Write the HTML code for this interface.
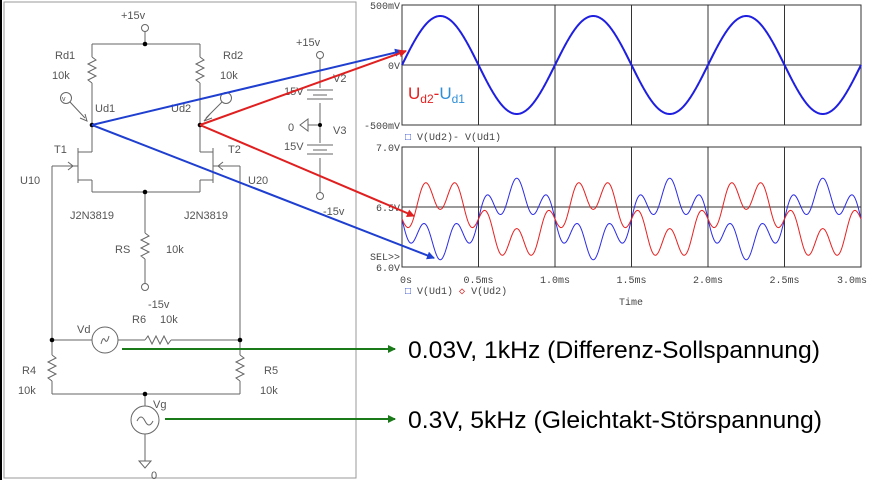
<!DOCTYPE html>
<html><head><meta charset="utf-8"><style>
html,body{margin:0;padding:0;background:#fff;width:869px;height:485px;overflow:hidden}
svg{display:block}
.s{font-family:"Liberation Sans",sans-serif;font-size:11px;fill:#555}
.m{font-family:"Liberation Mono",monospace;font-size:10px;fill:#444}
</style></head><body>
<svg id="g" width="869" height="485" viewBox="0 0 869 485" xmlns="http://www.w3.org/2000/svg">
<defs>
<marker id="ab" markerWidth="8" markerHeight="8" refX="7" refY="4" orient="auto" markerUnits="userSpaceOnUse"><path d="M0,0 L8,4 L0,8 z" fill="#1f3fd0"/></marker>
<marker id="ar" markerWidth="8" markerHeight="8" refX="7" refY="4" orient="auto" markerUnits="userSpaceOnUse"><path d="M0,0 L8,4 L0,8 z" fill="#e02020"/></marker>
<marker id="ag" markerWidth="8" markerHeight="8" refX="7" refY="4" orient="auto" markerUnits="userSpaceOnUse"><path d="M0,0 L8,4 L0,8 z" fill="#1a7a1a"/></marker>
</defs>
<rect x="0" y="0" width="2" height="480" fill="#000"/>
<rect x="4" y="2" width="352" height="476" fill="none" stroke="#999" stroke-width="1"/>
<g stroke="#666" stroke-width="1" fill="none">
<circle cx="145" cy="28" r="3.5" fill="#fff"/>
<line x1="145" y1="31" x2="145" y2="44"/>
<line x1="92" y1="44" x2="200" y2="44"/>
<line x1="92" y1="44" x2="92" y2="57"/><line x1="200" y1="44" x2="200" y2="57"/>
<polyline points="92,57 96,60 88,64 96,68 88,72 96,76 88,80 92,83"/>
<polyline points="200,57 204,60 196,64 204,68 196,72 204,76 196,80 200,83"/>
<line x1="92" y1="83" x2="92" y2="152"/><line x1="200" y1="83" x2="200" y2="152"/>
<line x1="78" y1="148" x2="78" y2="183"/>
<line x1="78" y1="152" x2="92" y2="152"/><line x1="78" y1="180" x2="92" y2="180"/>
<line x1="92" y1="180" x2="92" y2="192"/>
<line x1="52" y1="166" x2="78" y2="166"/><line x1="52" y1="166" x2="52" y2="340"/>
<polyline points="68,162 73,166 68,170"/>
<line x1="213" y1="148" x2="213" y2="183"/>
<line x1="200" y1="152" x2="213" y2="152"/><line x1="200" y1="180" x2="213" y2="180"/>
<line x1="200" y1="180" x2="200" y2="192"/>
<line x1="213" y1="166" x2="240" y2="166"/><line x1="240" y1="166" x2="240" y2="340"/>
<polyline points="223,162 218,166 223,170"/>
<line x1="92" y1="192" x2="200" y2="192"/>
<line x1="145" y1="192" x2="145" y2="233"/>
<polyline points="145,233 149,236 141,240 149,244 141,248 149,252 141,256 145,259"/>
<line x1="145" y1="259" x2="145" y2="284"/>
<circle cx="145" cy="287" r="3.5" fill="#fff"/>
<circle cx="66" cy="98" r="5.5"/><line x1="70" y1="102" x2="85" y2="118"/>
<polyline points="80,118 87,121 85,114"/>
<circle cx="226" cy="98" r="5.5"/><line x1="222" y1="102" x2="206" y2="118"/>
<polyline points="210,114 204,121 212,118"/>
<circle cx="320" cy="55" r="3.5" fill="#fff"/>
<line x1="320" y1="58" x2="320" y2="88"/>
<line x1="307" y1="90" x2="333" y2="90"/><line x1="313" y1="95" x2="327" y2="95"/><line x1="307" y1="99" x2="333" y2="99"/>
<line x1="320" y1="103" x2="320" y2="143"/>
<line x1="307" y1="145" x2="333" y2="145"/><line x1="313" y1="150" x2="327" y2="150"/><line x1="307" y1="154" x2="333" y2="154"/>
<line x1="320" y1="158" x2="320" y2="193"/>
<circle cx="320" cy="196" r="3.5" fill="#fff"/>
<line x1="308" y1="125" x2="320" y2="125"/>
<polygon points="300,125 308,119 308,131"/>
<line x1="52" y1="340" x2="92" y2="340"/>
<circle cx="105" cy="340" r="13"/>
<path d="M101,344 q2,-8 4,-4 t4,-4"/>
<line x1="118" y1="340" x2="145" y2="340"/>
<polyline points="145,340 148,336 152,344 156,336 160,344 164,336 168,344 171,340"/>
<line x1="171" y1="340" x2="240" y2="340"/>
<line x1="52" y1="340" x2="52" y2="355"/>
<polyline points="52,355 56,358 48,362 56,366 48,370 56,374 48,378 52,381"/>
<line x1="52" y1="381" x2="52" y2="394"/>
<line x1="240" y1="340" x2="240" y2="355"/>
<polyline points="240,355 244,358 236,362 244,366 236,370 244,374 236,378 240,381"/>
<line x1="240" y1="381" x2="240" y2="394"/>
<line x1="52" y1="394" x2="240" y2="394"/>
<line x1="145" y1="394" x2="145" y2="406"/>
<circle cx="145" cy="420" r="14"/>
<path d="M137,421 q4,-8 8,0 t8,0"/>
<line x1="145" y1="434" x2="145" y2="461"/>
<polygon points="139,461 151,461 145,468"/>
</g>
<g fill="#000">
<circle cx="145" cy="44" r="2.3"/><circle cx="145" cy="192" r="2.3"/>
<circle cx="92" cy="125" r="2.3"/><circle cx="200" cy="125" r="2.3"/>
<circle cx="320" cy="125" r="2"/>
<circle cx="52" cy="340" r="2.3"/><circle cx="240" cy="340" r="2.3"/><circle cx="145" cy="394" r="2.3"/>
</g>
<g class="s">
<text x="121" y="19">+15v</text>
<text x="55" y="59">Rd1</text><text x="52" y="79">10k</text>
<text x="223" y="59">Rd2</text><text x="220" y="79">10k</text>
<text x="62" y="101" font-size="7">v</text>
<text x="95" y="112">Ud1</text><text x="171" y="112">Ud2</text>
<text x="54" y="153">T1</text><text x="228" y="153">T2</text>
<text x="20" y="184">U10</text><text x="248" y="184">U20</text>
<text x="70" y="219">J2N3819</text><text x="184" y="219">J2N3819</text>
<text x="115" y="253">RS</text><text x="166" y="253">10k</text>
<text x="148" y="308">-15v</text>
<text x="132" y="323">R6</text><text x="160" y="323">10k</text>
<text x="77" y="333">Vd</text>
<text x="22" y="374">R4</text><text x="18" y="394">10k</text>
<text x="264" y="374">R5</text><text x="260" y="394">10k</text>
<text x="153" y="408">Vg</text><text x="151" y="479">0</text>
<text x="296" y="46">+15v</text>
<text x="333" y="82">V2</text><text x="284" y="95">15V</text>
<text x="288" y="131">0</text><text x="333" y="134">V3</text>
<text x="284" y="150">15V</text>
<text x="323" y="215">-15v</text>
</g>
<g stroke="#333" stroke-width="1" fill="none">
<rect x="402" y="5" width="459" height="120"/>
<rect x="402" y="147" width="459" height="120"/>
<line x1="402" y1="65" x2="861" y2="65"/>
<line x1="402" y1="207" x2="861" y2="207"/>
<g id="vg"></g>
</g>
<g class="m" text-anchor="end">
<text x="400" y="9">500mV</text><text x="400" y="69">0V</text><text x="400" y="129">-500mV</text>
<text x="400" y="151">7.0V</text><text x="400" y="211">6.5V</text><text x="400" y="271">6.0V</text>
<text x="400" y="260">SEL&gt;&gt;</text>
</g>
<g class="m" text-anchor="middle" id="xl"></g>
<g class="m">
<text x="405" y="140"><tspan fill="#1f3fd0">□</tspan> V(Ud2)- V(Ud1)</text>
<text x="405" y="294"><tspan fill="#1f3fd0">□</tspan> V(Ud1) <tspan fill="#e02020">◇</tspan> V(Ud2)</text>
<text x="631" y="305" text-anchor="middle">Time</text>
</g>
<path id="p1" fill="none" stroke="#1f1fe0" stroke-width="2"/>
<path id="pb" fill="none" stroke="#2a2ae8" stroke-width="1"/>
<path id="pr" fill="none" stroke="#e82020" stroke-width="1"/>
<text x="408" y="99" font-family="Liberation Sans,sans-serif" font-size="17"><tspan fill="#e52020">U</tspan><tspan fill="#e52020" font-size="12" dy="4">d2</tspan><tspan fill="#e52020" dy="-4">-</tspan><tspan fill="#2f8fd8">U</tspan><tspan fill="#2f8fd8" font-size="12" dy="4">d1</tspan></text>
<g stroke-width="2" fill="none">
<line x1="92" y1="125" x2="402" y2="51" stroke="#1f3fd0" marker-end="url(#ab)"/>
<line x1="92" y1="125" x2="434" y2="258" stroke="#1f3fd0" marker-end="url(#ab)"/>
<line x1="200" y1="125" x2="406" y2="51" stroke="#e02020" marker-end="url(#ar)"/>
<line x1="200" y1="125" x2="414" y2="216" stroke="#e02020" marker-end="url(#ar)"/>
<line x1="122" y1="349" x2="395" y2="349" stroke="#1a7a1a" marker-end="url(#ag)"/>
<line x1="165" y1="419" x2="395" y2="419" stroke="#1a7a1a" marker-end="url(#ag)"/>
</g>
<g font-family="Liberation Sans,sans-serif" font-size="24" fill="#000">
<text x="408" y="358" textLength="412" lengthAdjust="spacingAndGlyphs">0.03V, 1kHz (Differenz-Sollspannung)</text>
<text x="408" y="428" textLength="414" lengthAdjust="spacingAndGlyphs">0.3V, 5kHz (Gleichtakt-Störspannung)</text>
</g>
</svg>
<script>
var ns="http://www.w3.org/2000/svg",vg=document.getElementById('vg'),xl=document.getElementById('xl');
var labs=["0s","0.5ms","1.0ms","1.5ms","2.0ms","2.5ms","3.0ms"];
for(var i=0;i<7;i++){var x=402+i*76.5;
if(i>0&&i<6){[[5,125],[147,267]].forEach(function(r){var l=document.createElementNS(ns,'line');l.setAttribute('x1',x);l.setAttribute('x2',x);l.setAttribute('y1',r[0]);l.setAttribute('y2',r[1]);vg.appendChild(l);});}
var t=document.createElementNS(ns,'text');t.setAttribute('x',i==0?406:(i==6?852:x));t.setAttribute('y',283);t.textContent=labs[i];xl.appendChild(t);}
var a="",b="",c="";
for(var k=0;k<=918;k++){var x=402+k/2,t=(k/2)/153;
var s1=Math.sin(2*Math.PI*t),s5=Math.sin(2*Math.PI*5*t);
var y1=65-49*s1;
var ub=6.40-0.21*s1-0.13*s5,ur=6.40+0.21*s1-0.13*s5;
var cmd=k?"L":"M";
a+=cmd+x.toFixed(1)+","+y1.toFixed(1);
b+=cmd+x.toFixed(1)+","+(207-(ub-6.5)*120).toFixed(1);
c+=cmd+x.toFixed(1)+","+(207-(ur-6.5)*120).toFixed(1);}
document.getElementById('p1').setAttribute('d',a);
document.getElementById('pb').setAttribute('d',b);
document.getElementById('pr').setAttribute('d',c);
</script>
</body></html>
